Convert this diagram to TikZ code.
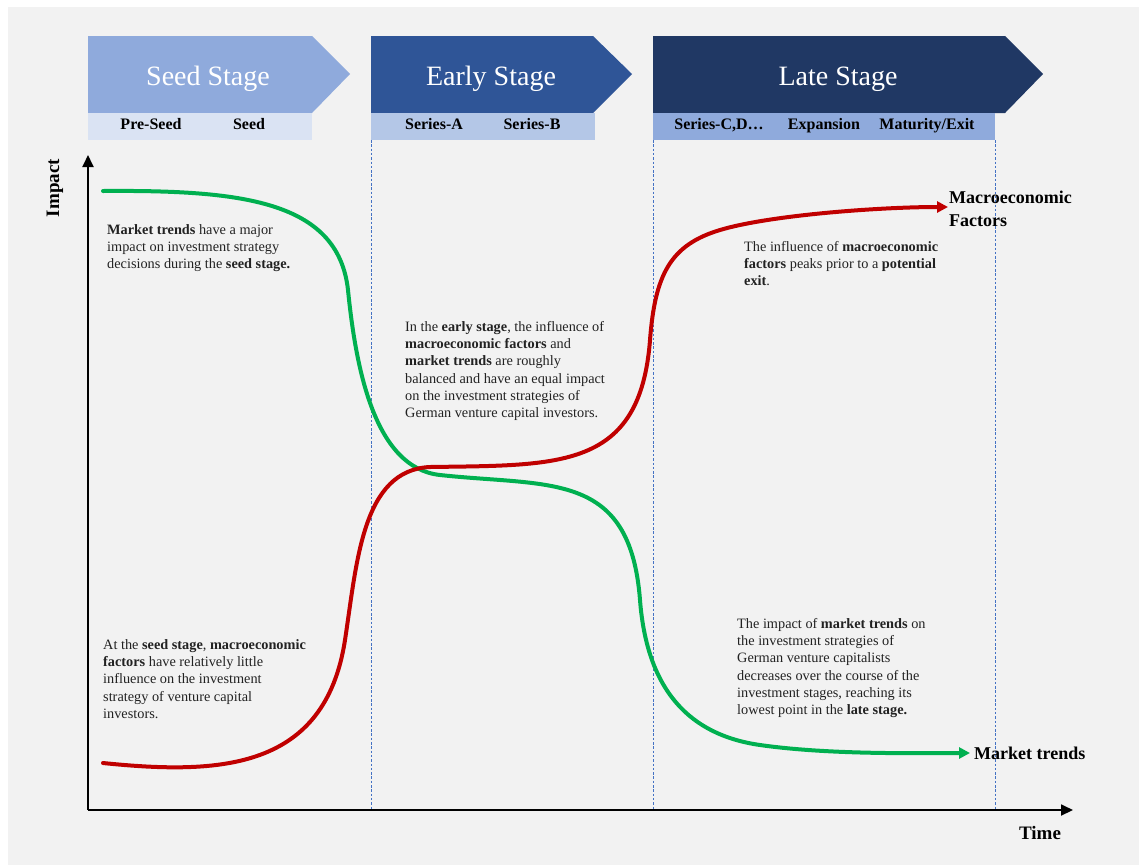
\documentclass[tikz,border=0pt]{standalone}
\usepackage{fontspec}
\setmainfont{Liberation Serif}
\usetikzlibrary{arrows.meta}

\definecolor{panel}{HTML}{F2F2F2}
\definecolor{seedfill}{HTML}{8FAADC}
\definecolor{seedsub}{HTML}{DAE3F3}
\definecolor{earlyfill}{HTML}{2F5597}
\definecolor{earlysub}{HTML}{B4C7E7}
\definecolor{latefill}{HTML}{203864}
\definecolor{latesub}{HTML}{8FAADC}
\definecolor{trendgreen}{HTML}{00B050}
\definecolor{macrored}{HTML}{C00000}
\definecolor{divider}{HTML}{4472C4}
\definecolor{bodytext}{HTML}{222222}

\newcommand\txtbody{\fontsize{14.3}{17.3}\selectfont}

\tikzset{
  banner/.style={text=white, font=\fontsize{28}{32}\selectfont, anchor=base},
  sublabel/.style={font=\bfseries\fontsize{16}{18}\selectfont, anchor=base, text=black},
  note/.style={font=\txtbody, text=bodytext, align=left, anchor=north west, inner sep=0pt},
  curvelabel/.style={font=\bfseries\fontsize{18}{23}\selectfont, text=black, inner sep=0pt},
  axislabel/.style={font=\bfseries\fontsize{19}{22}\selectfont, text=black, inner sep=0pt},
  axis/.style={line width=1.8pt, -{Triangle[length=12pt,width=11pt]}},
  stagedivider/.style={divider, line width=0.7pt, dash pattern=on 2.5pt off 1.8pt},
  trend/.style={line width=4pt, line cap=round, -{Triangle[length=11pt,width=11pt]}},
}

\begin{document}
\begin{tikzpicture}[x=1pt,y=-1pt]
  % canvas
  \useasboundingbox (0,0) rectangle (1139,865);
  \fill[white] (0,0) rectangle (1139,865);
  \fill[panel] (8,7) rectangle (1139,865);

  % stage banners
  \fill[seedfill]  (88,36) -- (312,36) -- (350,74) -- (312,113) -- (88,113) -- cycle;
  \fill[seedsub]   (88,113) rectangle (312,140);
  \fill[earlyfill] (371,36) -- (593,36) -- (632,74) -- (593,113) -- (371,113) -- cycle;
  \fill[earlysub]  (371,113) rectangle (595,140);
  \fill[latefill]  (653,36) -- (1005,36) -- (1043,74) -- (1005,113) -- (653,113) -- cycle;
  \fill[latesub]   (653,113) rectangle (995,140);

  \node[banner] (seed)  at (208,85) {Seed Stage};
  \node[banner] (early) at (491,85) {Early Stage};
  \node[banner] (late)  at (838,85) {Late Stage};

  \node[sublabel] (preseed)  at (151,129) {Pre-Seed};
  \node[sublabel] (seedsub)  at (249,129) {Seed};
  \node[sublabel] (seriesa)  at (434,129) {Series-A};
  \node[sublabel] (seriesb)  at (532,129) {Series-B};
  \node[sublabel] (seriescd) at (719,129) {Series-C,D…};
  \node[sublabel] (expand)   at (824,129) {Expansion};
  \node[sublabel] (mature)   at (927,129) {Maturity/Exit};

  % stage dividers
  \coordinate (d1top) at (371,140); \coordinate (d1bot) at (371,810);
  \coordinate (d2top) at (653,140); \coordinate (d2bot) at (653,810);
  \coordinate (d3top) at (995,140); \coordinate (d3bot) at (995,810);
  \draw[stagedivider] (d1top) -- (d1bot);
  \draw[stagedivider] (d2top) -- (d2bot);
  \draw[stagedivider] (d3top) -- (d3bot);

  % axes
  \coordinate (origin) at (88,810);
  \coordinate (ytip) at (88,155);
  \coordinate (xtip) at (1073,810);
  \draw[axis] (origin) -- (ytip);
  \draw[axis] (origin) -- (xtip);
  \node[axislabel, rotate=90] (impact) at (55,188) {Impact};
  \node[axislabel, anchor=base] (time) at (1040,839) {Time};

  % market trends curve
  \coordinate (greenstart) at (103,191);
  \coordinate (greenend) at (970,753);
  \draw[trend, trendgreen] (greenstart)
    .. controls (240,190) and (338,200) .. (348,290)
    .. controls (356,370) and (375,468) .. (440,475)
    .. controls (550,487) and (630,470) .. (640,600)
    .. controls (647,691) and (690,735) .. (760,745)
    .. controls (830,755) and (920,753) .. (greenend);

  % macroeconomic factors curve
  \coordinate (redstart) at (103,763);
  \coordinate (redend) at (948,207);
  \draw[trend, macrored] (redstart)
    .. controls (220,775) and (325,770) .. (345,640)
    .. controls (357,562) and (362,470) .. (430,467)
    .. controls (560,465) and (640,470) .. (650,340)
    .. controls (655,275) and (670,245) .. (720,230)
    .. controls (770,215) and (880,207) .. (redend);

  \node[curvelabel, anchor=north west, align=left] (macrolabel) at (949,191)
    {Macroeconomic\\Factors};
  \node[curvelabel, anchor=base west] (trendlabel) at (974,759) {Market trends};

  % annotations
  \node[note] (noteseedtop) at (107,224)
    {\textbf{Market trends} have a major\\
     impact on investment strategy\\
     decisions during the \textbf{seed stage.}};
  \node[note] (noteseedlow) at (103,639)
    {At the \textbf{seed stage}, \textbf{macroeconomic}\\
     \textbf{factors} have relatively little\\
     influence on the investment\\
     strategy of venture capital\\
     investors.};
  \node[note] (noteearly) at (405,321)
    {In the \textbf{early stage}, the influence of\\
     \textbf{macroeconomic factors} and\\
     \textbf{market trends} are roughly\\
     balanced and have an equal impact\\
     on the investment strategies of\\
     German venture capital investors.};
  \node[note] (notelatetop) at (744,241)
    {The influence of \textbf{macroeconomic}\\
     \textbf{factors} peaks prior to a \textbf{potential}\\
     \textbf{exit}.};
  \node[note] (notelatelow) at (737,618)
    {The impact of \textbf{market trends} on\\
     the investment strategies of\\
     German venture capitalists\\
     decreases over the course of the\\
     investment stages, reaching its\\
     lowest point in the \textbf{late stage.}};
\end{tikzpicture}
\end{document}
